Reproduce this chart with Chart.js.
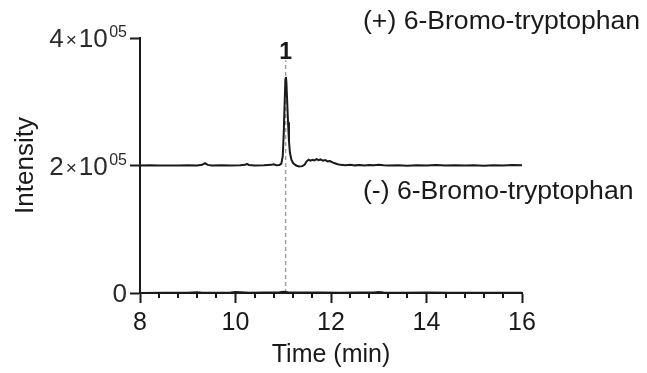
<!DOCTYPE html>
<html>
<head>
<meta charset="utf-8">
<script src="https://cdn.jsdelivr.net/npm/chart.js@4/dist/chart.umd.min.js"></script>
<style>
  html, body { margin: 0; padding: 0; background: #fff; }
  #wrap { width: 647px; height: 373px; }
</style>
</head>
<body>
<div id="wrap"><canvas id="chromChart" width="647" height="373"></canvas></div>
<script>
// (+) 6-Bromo-tryptophan trace, offset by 2x10^5
const timePlus = [8.0, 8.2, 8.4, 8.6, 8.8, 9.0, 9.2, 9.3, 9.36, 9.42, 9.5, 9.7, 9.9, 10.1, 10.2, 10.24, 10.28, 10.4, 10.6, 10.75, 10.8, 10.85, 10.92, 10.96, 10.99, 11.01, 11.03, 11.045, 11.055, 11.065, 11.08, 11.10, 11.12, 11.14, 11.17, 11.21, 11.27, 11.33, 11.40, 11.45, 11.49, 11.53, 11.57, 11.61, 11.65, 11.70, 11.74, 11.78, 11.83, 11.88, 11.93, 11.98, 12.03, 12.08, 12.14, 12.2, 12.3, 12.4, 12.5, 12.6, 12.7, 12.8, 12.9, 13.0, 13.1, 13.2, 13.4, 13.6, 13.8, 14.0, 14.2, 14.4, 14.6, 14.8, 15.0, 15.2, 15.4, 15.6, 15.8, 16.0];
const intensityPlus = [200000, 200200, 199900, 200100, 200000, 200300, 200000, 201000, 203500, 201000, 200000, 200200, 199900, 200300, 201000, 202500, 200800, 200100, 200400, 201000, 201800, 200500, 200800, 203000, 215000, 250000, 300000, 335000, 339000, 332000, 305000, 268000, 238000, 220000, 209000, 203500, 200000, 198500, 199000, 201500, 206500, 209000, 207500, 209000, 208000, 210000, 208500, 209500, 207500, 208500, 206500, 207000, 205000, 203500, 202000, 201000, 200500, 201000, 200200, 200600, 200000, 200800, 200300, 201200, 200400, 200000, 200300, 199800, 200500, 200100, 200600, 199900, 200400, 200000, 200300, 199800, 200500, 200000, 200600, 200200];

// (-) 6-Bromo-tryptophan trace
const timeMinus = [8.0, 8.5, 9.0, 9.2, 9.3, 9.6, 9.9, 10.0, 10.1, 10.3, 10.6, 10.9, 11.0, 11.1, 11.4, 11.8, 12.2, 12.6, 12.9, 13.0, 13.1, 13.5, 14.0, 14.5, 15.0, 15.5, 16.0];
const intensityMinus = [0, 300, 500, 1200, 300, 400, 800, 1600, 1200, 500, 700, 900, 1800, 1000, 600, 900, 500, 700, 900, 1700, 800, 400, 600, 300, 500, 300, 200];

const seriesNames = ['(+) 6-Bromo-tryptophan', '(-) 6-Bromo-tryptophan'];
const peakTime = 11.05;
const peakLabel = '1';
const markerTop = 365000;

const yTickValues = [0, 200000, 400000];
const yTickLabels = [['0', ''], ['2', '05'], ['4', '05']];
const xMin = 8, xMax = 16, xMajorStep = 2, xMinorStep = 0.4;

const ink = '#1a1a1a';
const fontFamily = '"Liberation Sans", Arial, sans-serif';

const toPoints = (xs, ys) => xs.map((x, i) => ({ x, y: ys[i] }));

const decorPlugin = {
  id: 'decor',
  afterDraw(chart) {
    const { ctx, scales: { x, y } } = chart;
    const axisY = y.getPixelForValue(0);
    ctx.save();
    ctx.strokeStyle = ink;
    ctx.lineWidth = 2;

    // minor x ticks
    for (let v = xMin + xMinorStep; v < xMax - 0.01; v += xMinorStep) {
      const r = v / xMajorStep;
      if (Math.abs(r - Math.round(r)) < 0.01) continue;
      const px = Math.round(x.getPixelForValue(v));
      ctx.beginPath();
      ctx.moveTo(px, axisY);
      ctx.lineTo(px, axisY + 5);
      ctx.stroke();
    }

    // y tick labels with superscript exponent
    ctx.fillStyle = '#2a2a2a';
    ctx.textBaseline = 'alphabetic';
    const rightEdge = 127;
    yTickValues.forEach((v, i) => {
      const py = y.getPixelForValue(v);
      const [mant, exp] = yTickLabels[i];
      const base = py + 9;
      if (!exp) {
        ctx.font = `26px ${fontFamily}`;
        ctx.textAlign = 'right';
        ctx.fillText(mant, rightEdge, base);
        return;
      }
      ctx.textAlign = 'left';
      const parts = [
        { t: mant, f: 26, dy: 0, gap: 2 },
        { t: '×', f: 19, dy: -1, gap: 2 },
        { t: '10', f: 26, dy: 0, gap: 1.5 },
        { t: exp, f: 16, dy: -10, gap: 0 }
      ];
      let total = 0;
      parts.forEach(p => { ctx.font = `${p.f}px ${fontFamily}`; p.w = ctx.measureText(p.t).width; total += p.w + p.gap; });
      let cx = rightEdge - total;
      parts.forEach(p => {
        ctx.font = `${p.f}px ${fontFamily}`;
        ctx.fillText(p.t, cx, base + p.dy);
        cx += p.w + p.gap;
      });
    });

    // trace names
    ctx.fillStyle = ink;
    ctx.font = `26.6px ${fontFamily}`;
    ctx.textAlign = 'left';
    ctx.textBaseline = 'middle';
    ctx.fillText(seriesNames[0], 363, 22);
    ctx.fillText(seriesNames[1], 363, 192);

    // peak number
    ctx.font = `bold 23px ${fontFamily}`;
    ctx.textAlign = 'center';
    ctx.fillText(peakLabel, x.getPixelForValue(peakTime), 53);
    ctx.restore();
  }
};

new Chart(document.getElementById('chromChart'), {
  type: 'line',
  data: {
    datasets: [
      {
        label: seriesNames[0],
        data: toPoints(timePlus, intensityPlus),
        borderColor: ink,
        borderWidth: 2,
        pointRadius: 0,
        tension: 0,
        clip: false,
        order: 1
      },
      {
        label: seriesNames[1],
        data: toPoints(timeMinus, intensityMinus),
        borderColor: ink,
        borderWidth: 2,
        pointRadius: 0,
        tension: 0,
        clip: false,
        order: 1
      },
      {
        label: 'marker',
        data: [{ x: peakTime, y: 0 }, { x: peakTime, y: markerTop }],
        borderColor: '#a0a0a0',
        borderWidth: 1.5,
        borderDash: [4, 3],
        pointRadius: 0,
        clip: false,
        order: 3
      }
    ]
  },
  options: {
    responsive: false,
    devicePixelRatio: 1,
    animation: false,
    layout: { padding: { left: 0, right: 125, top: 38, bottom: 0 } },
    plugins: { legend: { display: false }, tooltip: { enabled: false } },
    scales: {
      x: {
        type: 'linear',
        min: xMin,
        max: xMax,
        afterFit: s => { s.height = 80; },
        border: { display: true, color: ink, width: 2 },
        grid: { drawOnChartArea: false, drawTicks: true, tickLength: 10, tickColor: ink, tickWidth: 2 },
        ticks: {
          stepSize: xMajorStep,
          color: ink,
          padding: 5,
          font: { family: fontFamily, size: 25 },
          maxRotation: 0
        },
        title: {
          display: true,
          text: 'Time (min)',
          color: ink,
          font: { family: fontFamily, size: 25 },
          padding: { top: 0, bottom: 3 }
        }
      },
      y: {
        type: 'linear',
        min: 0,
        max: 400000,
        afterFit: s => { s.width = 140; },
        border: { display: true, color: ink, width: 2 },
        grid: { drawOnChartArea: false, drawTicks: true, tickLength: 10, tickColor: ink, tickWidth: 2 },
        ticks: { stepSize: 200000, display: false },
        title: {
          display: true,
          text: 'Intensity',
          color: ink,
          font: { family: fontFamily, size: 26 },
          padding: { top: 10, bottom: 0 }
        }
      }
    }
  },
  plugins: [decorPlugin]
});
</script>
</body>
</html>
